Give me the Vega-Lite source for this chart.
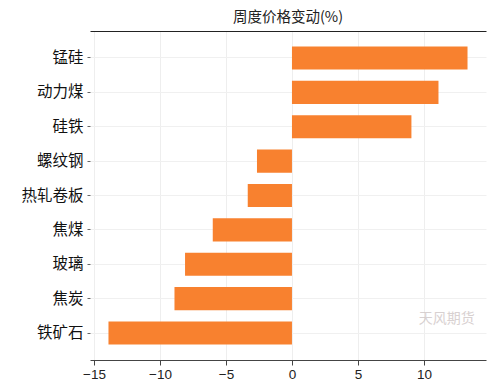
{
  "$schema": "https://vega.github.io/schema/vega-lite/v6.json",
  "autosize": "none",
  "width": 396,
  "height": 329,
  "padding": {"left": 90, "top": 31, "right": 14, "bottom": 32},
  "background": "white",
  "title": {"text": "周度价格变动(%)", "font": "Noto Sans CJK SC", "fontSize": 14.5, "fontWeight": "normal", "color": "#222", "offset": 6, "anchor": "middle"},
  "config": {"view": {"stroke": null}},
  "datasets": {
    "bars": [
      {"品种": "锰硅", "变动": 13.3},
      {"品种": "动力煤", "变动": 11.1},
      {"品种": "硅铁", "变动": 9.05},
      {"品种": "螺纹钢", "变动": -2.65},
      {"品种": "热轧卷板", "变动": -3.35},
      {"品种": "焦煤", "变动": -6.0},
      {"品种": "玻璃", "变动": -8.1},
      {"品种": "焦炭", "变动": -8.9},
      {"品种": "铁矿石", "变动": -13.9}
    ],
    "mark": [{"品种": "铁矿石", "x": 9.6, "label": "天风期货"}]
  },
  "layer": [
    {
      "data": {"name": "bars"},
      "mark": {"type": "bar", "color": "#F8812F"},
      "encoding": {
        "y": {
          "field": "品种", "type": "nominal", "sort": null,
          "scale": {"paddingInner": 0.33, "paddingOuter": 0.45},
          "axis": {"title": null, "labelFont": "Noto Sans CJK SC", "labelFontSize": 15.5, "labelColor": "#111", "tickSize": 3, "tickColor": "#666", "labelPadding": 4, "domain": false, "grid": true, "gridColor": "#f0f0f0", "bandPosition": 0.5}
        },
        "x": {
          "field": "变动", "type": "quantitative",
          "scale": {"domain": [-15.3, 14.7], "nice": false, "zero": false},
          "axis": {"title": null, "values": [-15, -10, -5, 0, 5, 10], "labelFont": "Liberation Sans", "labelFontSize": 13.5, "labelColor": "#222", "tickSize": 5, "tickColor": "#444", "domainColor": "#444", "labelPadding": 2, "grid": true, "gridColor": "#eeeeee"}
        }
      }
    },
    {
      "data": {"name": "mark"},
      "mark": {"type": "text", "font": "Noto Sans CJK SC", "fontSize": 14, "color": "#cfc6c6", "opacity": 0.8, "align": "left", "dy": -14},
      "encoding": {
        "y": {"field": "品种", "type": "nominal", "sort": null},
        "x": {"field": "x", "type": "quantitative", "axis": {"orient": "top", "labels": false, "ticks": false, "grid": false, "domain": true, "domainColor": "#222", "title": null}},
        "text": {"field": "label"}
      }
    }
  ],
  "resolve": {"axis": {"x": "independent", "y": "shared"}}
}
